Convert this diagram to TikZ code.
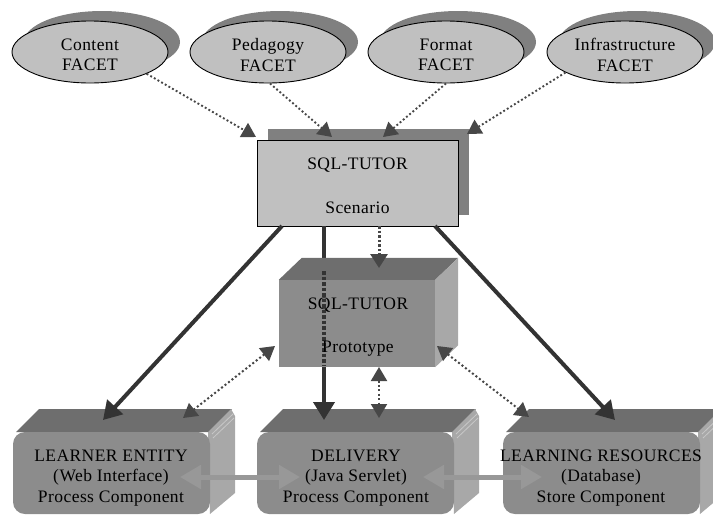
\documentclass[tikz,border=0pt]{standalone}
\usepackage{fontspec}
\setmainfont{Liberation Serif}[LetterSpace=2.5]
\usetikzlibrary{arrows.meta,shapes.geometric,shadows,calc}
\definecolor{facetfill}{HTML}{C0C0C0}
\definecolor{shadowgray}{HTML}{808080}
\definecolor{frontgray}{HTML}{8C8C8C}
\definecolor{topgray}{HTML}{6E6E6E}
\definecolor{sidegray}{HTML}{A8A8A8}
\definecolor{bevelgray}{HTML}{C8C8C8}
\definecolor{linedark}{HTML}{333333}
\definecolor{dotdark}{HTML}{474747}
\definecolor{linkgray}{HTML}{989898}
\begin{document}
\begin{tikzpicture}[x=1pt,y=-1pt,
  every node/.style={font=\fontsize{17.5}{20.5}\selectfont, text=black, align=center},
  facet/.style={ellipse, draw=black, line width=0.9pt, fill=facetfill,
    minimum width=156pt, minimum height=62pt, inner sep=0pt,
    general shadow={shadow xshift=12pt, shadow yshift=10pt, fill=shadowgray}},
  scenariobox/.style={rectangle, draw=black, line width=0.9pt, fill=facetfill,
    minimum width=201pt, minimum height=86pt, inner sep=0pt,
    general shadow={shadow xshift=11pt, shadow yshift=11pt, fill=shadowgray}},
  protofront/.style={rectangle, fill=frontgray, minimum width=156pt, minimum height=87pt, inner sep=0pt},
  compfront/.style={rectangle, rounded corners=12pt, fill=frontgray, minimum width=197pt, minimum height=82pt, inner sep=0pt},
  facetlink/.style={dotdark, line width=1.9pt, dash pattern=on 1.9pt off 2.3pt,
    -{Triangle[length=14pt,width=16pt]}},
  protolink/.style={dotdark, line width=2pt, dash pattern=on 2pt off 2.4pt,
    {Triangle[length=14pt,width=16pt]}-{Triangle[length=14pt,width=16pt]}},
  thicklink/.style={linedark, line width=4pt, -{Triangle[length=18pt,width=21pt]}},
  complink/.style={linkgray, line width=5pt,
    {Triangle[length=21pt,width=23pt]}-{Triangle[length=21pt,width=23pt]}}
]
\useasboundingbox (0,0) rectangle (713,515);
\clip (0,0) rectangle (713,515);

% facets
\node[facet] (content) at (90,52) {};
\node[facet] (pedagogy) at (268,52) {};
\node[facet] (format) at (446,52) {};
\node[facet] (infra) at (625,52) {};
\node (contenttxt) at (90,55) {Content\\FACET};
\node (pedagogytxt) at (268,55) {Pedagogy\\FACET};
\node (formattxt) at (446,55) {Format\\FACET};
\node (infratxt) at (625,55) {Infrastructure\\FACET};

% scenario
\node[scenariobox] (scenario) at (357.5,183) {};
\node (scenariotxt) at (357.5,186) {SQL-TUTOR\\[23pt]Scenario};

% facet links
\coordinate (tc) at (256,137);
\coordinate (tp) at (332,137);
\coordinate (tf) at (383,137);
\coordinate (ti) at (467,134);
\draw[facetlink] (content.-21) -- (tc);
\draw[facetlink] ([xshift=2pt]pedagogy.south) -- (tp);
\draw[facetlink] (format.south) -- (tf);
\draw[facetlink] (infra.199) -- (ti);

% component boxes
\foreach \nm/\xa/\xb in {learner/13/210, delivery/257/454, resources/503/700} {
  \fill[topgray] (\xa+3,432) -- (\xa+26,409) -- (\xb+22,409) -- (\xb,432) -- cycle;
  \fill[sidegray] (\xb-2,432) -- (\xb+21,409) -- (\xb+25,416) -- (\xb+25,493) -- (\xb,514) -- cycle;
  \draw[bevelgray, line width=0.8pt] (\xb+2,434) -- (\xb+23,414);
  \draw[bevelgray, line width=0.8pt] (\xb+3,438) -- (\xb+24,418);
  \node[compfront] (\nm) at ({(\xa+\xb)/2},473) {};
}
\node (learnertxt) at (111,478) {LEARNER ENTITY\\(Web Interface)\\Process Component};
\node (deliverytxt) at (356,478) {DELIVERY\\(Java Servlet)\\Process Component};
\node (resourcestxt) at (601,478) {LEARNING RESOURCES\\(Database)\\Store Component};

% thick arrow to delivery (behind prototype)
\coordinate (sd) at (324,226);
\coordinate (td) at (324,420);
\draw[thicklink] (sd) -- (td);

% prototype box
\node[protofront] (proto) at (357,323.5) {};
\fill[topgray] (proto.north west) -- ++(23,-22) -- ($(proto.north east)+(23,-22)$) -- (proto.north east) -- cycle;
\fill[sidegray] (proto.north east) -- ++(23,-22) -- ($(proto.south east)+(23,-22)$) -- (proto.south east) -- cycle;
\coordinate (dsa) at (324,271);
\coordinate (dsb) at (324,366);
\draw[linedark, line width=4pt, dash pattern=on 3.5pt off 2pt] (dsa) -- (dsb);
\node (prototxt) at (358,327) {SQL-TUTOR\\[23pt]Prototype};

% scenario to others
\coordinate (sl) at (282,226);
\coordinate (tl) at (103,420);
\draw[thicklink] (sl) -- (tl);
\coordinate (sr) at (435,226);
\coordinate (tr) at (615,420);
\draw[thicklink] (sr) -- (tr);
\coordinate (sp) at (379,226);
\coordinate (tpp) at (379,268);
\draw[dotdark, line width=3pt, dash pattern=on 2.5pt off 2pt, -{Triangle[length=14pt,width=17pt]}] (sp) -- (tpp);

% prototype links
\coordinate (pl1) at (275,346);
\coordinate (pl2) at (183,418);
\draw[protolink] (pl1) -- (pl2);
\coordinate (pm1) at (379,367);
\coordinate (pm2) at (379,418);
\draw[protolink] (pm1) -- (pm2);
\coordinate (pr1) at (437,346);
\coordinate (pr2) at (529,417);
\draw[protolink] (pr1) -- (pr2);

% component links
\coordinate (c1) at (180,477);
\coordinate (c2) at (300,477);
\draw[complink] (c1) -- (c2);
\coordinate (c3) at (423,477);
\coordinate (c4) at (542,477);
\draw[complink] (c3) -- (c4);
\end{tikzpicture}
\end{document}
